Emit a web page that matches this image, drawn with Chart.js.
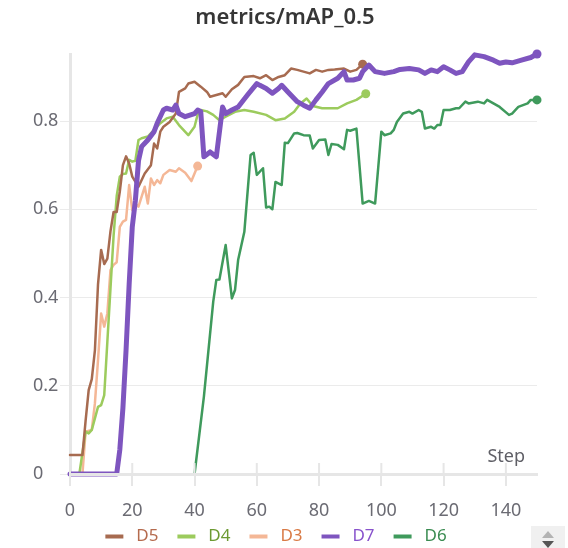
<!DOCTYPE html>
<html>
<head>
<meta charset="utf-8">
<script src="https://cdn.jsdelivr.net/npm/chart.js@4.4.1/dist/chart.umd.min.js"></script>
<style>
  body { margin: 0; background: #fff; }
  #wrap { position: relative; width: 568px; height: 548px; }
  #pager { position: absolute; left: 531px; top: 526px; width: 34px; height: 22px; background: #f0f0f0; }
  .tri { position: absolute; left: 11px; width: 0; height: 0; border-left: 6px solid transparent; border-right: 6px solid transparent; }
  .up { top: 5px; border-bottom: 7px solid #b3b3b3; }
  .down { top: 15px; border-top: 7px solid #555; }
</style>
</head>
<body>
<div id="wrap">
  <canvas id="mapChart"></canvas>
  <div id="pager"><div class="tri up"></div><div class="tri down"></div></div>
</div>
<script>
// --- 1. Data ---
const chartTitle = 'metrics/mAP_0.5';
const seriesNames = ['D5', 'D4', 'D3', 'D7', 'D6'];
const xTicks = [0, 20, 40, 60, 80, 100, 120, 140];
const yTicks = [0, 0.2, 0.4, 0.6, 0.8];
const yTickLabels = ['0', '0.2', '0.4', '0.6', '0.8'];

const d5Steps = [0, 4, 5, 6, 7, 8, 9, 10, 11, 12, 13, 14, 15, 16, 17, 18, 19, 20, 22, 24, 26, 27, 28, 29, 30, 32, 34, 35, 37, 38, 40, 42, 44, 45, 47, 49, 50, 52, 54, 56, 59, 61, 63, 65, 67, 69, 71, 73, 75, 77, 79, 81, 83, 85, 88, 90, 92, 94];
const d5Vals  = [0.043, 0.043, 0.12, 0.19, 0.215, 0.28, 0.43, 0.508, 0.476, 0.488, 0.55, 0.594, 0.594, 0.64, 0.70, 0.72, 0.704, 0.674, 0.651, 0.681, 0.70, 0.749, 0.738, 0.776, 0.787, 0.798, 0.817, 0.866, 0.874, 0.885, 0.889, 0.878, 0.866, 0.855, 0.859, 0.863, 0.855, 0.872, 0.882, 0.900, 0.902, 0.897, 0.904, 0.893, 0.900, 0.904, 0.919, 0.916, 0.912, 0.908, 0.916, 0.912, 0.916, 0.917, 0.919, 0.912, 0.916, 0.929];

const d4Steps = [0, 3, 5, 6, 7, 9, 10, 11, 12, 13, 14, 15, 16, 17, 18, 19, 20, 21, 22, 23, 25, 27, 29, 31, 33, 35, 38, 40, 41, 42, 44, 46, 48, 50, 53, 56, 59, 63, 66, 69, 72, 74, 76, 78, 81, 86, 89, 92, 95];
const d4Vals  = [0, 0, 0.096, 0.092, 0.10, 0.152, 0.156, 0.179, 0.30, 0.42, 0.54, 0.63, 0.674, 0.68, 0.681, 0.712, 0.708, 0.71, 0.757, 0.761, 0.765, 0.78, 0.795, 0.806, 0.81, 0.791, 0.768, 0.787, 0.815, 0.825, 0.822, 0.814, 0.802, 0.81, 0.821, 0.825, 0.821, 0.814, 0.802, 0.806, 0.821, 0.84, 0.851, 0.834, 0.829, 0.829, 0.84, 0.848, 0.862];

const d3Steps = [0, 4, 5, 7, 8, 9, 10, 11, 12, 13, 14, 15, 16, 17, 18, 19, 20, 21, 22, 24, 25, 26, 27, 28, 29, 30, 32, 34, 35, 37, 39, 41];
const d3Vals  = [0, 0, 0.096, 0.10, 0.16, 0.258, 0.364, 0.334, 0.364, 0.462, 0.474, 0.48, 0.56, 0.572, 0.576, 0.655, 0.598, 0.613, 0.606, 0.651, 0.613, 0.67, 0.655, 0.666, 0.659, 0.678, 0.689, 0.685, 0.693, 0.683, 0.664, 0.698];

const d7Steps = [0, 15, 16, 17, 18, 19, 20, 21, 22, 23, 25, 27, 28, 30, 31, 33, 34, 35, 37, 40, 41, 42, 43, 45, 47, 49, 50, 52, 54, 57, 60, 61, 63, 65, 67, 68, 70, 73, 75, 77, 79, 81, 83, 86, 88, 89, 91, 93, 94, 96, 98, 101, 104, 106, 109, 112, 114, 116, 118, 120, 122, 124, 126, 128, 130, 133, 136, 138, 140, 142, 145, 148, 150];
const d7Vals  = [0, 0, 0.055, 0.15, 0.28, 0.43, 0.56, 0.62, 0.71, 0.742, 0.757, 0.776, 0.795, 0.825, 0.829, 0.825, 0.836, 0.817, 0.81, 0.817, 0.825, 0.821, 0.719, 0.730, 0.719, 0.832, 0.817, 0.825, 0.832, 0.859, 0.885, 0.881, 0.874, 0.863, 0.874, 0.881, 0.866, 0.844, 0.836, 0.829, 0.848, 0.866, 0.885, 0.897, 0.912, 0.893, 0.893, 0.897, 0.912, 0.927, 0.912, 0.908, 0.912, 0.917, 0.919, 0.916, 0.908, 0.916, 0.912, 0.923, 0.916, 0.908, 0.912, 0.934, 0.950, 0.946, 0.938, 0.931, 0.934, 0.932, 0.938, 0.944, 0.952];

const d6Steps = [40, 43, 46, 47, 48, 50, 52, 53, 54, 56, 58, 59, 60, 62, 63, 64, 65, 66, 68, 69, 70, 72, 73, 75, 77, 78, 80, 82, 83, 84, 86, 88, 89, 90, 92, 94, 96, 98, 100, 101, 103, 104, 105, 107, 109, 110, 112, 113, 114, 116, 117, 118, 119, 120, 122, 124, 125, 127, 128, 131, 133, 134, 136, 138, 141, 142, 144, 147, 148, 150];
const d6Vals  = [0, 0.175, 0.39, 0.44, 0.441, 0.519, 0.398, 0.417, 0.485, 0.549, 0.723, 0.728, 0.678, 0.693, 0.604, 0.606, 0.600, 0.662, 0.655, 0.751, 0.75, 0.772, 0.773, 0.768, 0.767, 0.738, 0.757, 0.758, 0.723, 0.748, 0.746, 0.736, 0.78, 0.778, 0.783, 0.613, 0.619, 0.613, 0.776, 0.768, 0.772, 0.78, 0.798, 0.817, 0.821, 0.817, 0.825, 0.821, 0.783, 0.787, 0.783, 0.791, 0.791, 0.825, 0.825, 0.829, 0.829, 0.844, 0.84, 0.844, 0.84, 0.848, 0.84, 0.832, 0.814, 0.817, 0.832, 0.84, 0.848, 0.848];

const lineColors = ['#a76b50', '#9ccb5d', '#f4b796', '#7e55bf', '#3f9a5c'];
const textColors = ['#b56b4e', '#6c9a32', '#d97a45', '#8853cc', '#3b8c52'];
const lineWidths = [2.5, 2.5, 2.5, 5, 2.5];
const drawOrder  = [1, 2, 3, 0, 4]; // D7 on top

const stepLists = [d5Steps, d4Steps, d3Steps, d7Steps, d6Steps];
const valLists  = [d5Vals, d4Vals, d3Vals, d7Vals, d6Vals];

// --- 2. Chart.js setup ---
Chart.defaults.font.family = '"Noto Sans", sans-serif';

const datasets = seriesNames.map((name, i) => ({
    label: name,
    data: stepLists[i].map((s, j) => ({ x: s, y: valLists[i][j] })),
    borderColor: lineColors[i],
    backgroundColor: lineColors[i],
    borderWidth: lineWidths[i],
    borderJoinStyle: 'round',
    borderCapStyle: 'round',
    tension: 0,
    order: drawOrder[i],
    clip: 8,
    // only the last point of each run gets a dot
    pointRadius: ctx => ctx.dataIndex === stepLists[i].length - 1 ? 4.5 : 0,
    pointBackgroundColor: lineColors[i],
    pointBorderWidth: 0
}));

// "Step" caption inside the plot, plus the part of each x tick above the axis
const stepLabel = {
    id: 'stepLabel',
    afterDraw(chart) {
        const { ctx, chartArea, scales } = chart;
        ctx.save();
        ctx.strokeStyle = '#e6e6e6';
        ctx.lineWidth = 2;
        xTicks.forEach(v => {
            const px = scales.x.getPixelForValue(v);
            ctx.beginPath();
            ctx.moveTo(px, chartArea.bottom - 11);
            ctx.lineTo(px, chartArea.bottom);
            ctx.stroke();
        });
        ctx.fillStyle = '#5f5f66';
        ctx.font = '18px "Noto Sans"';
        ctx.textAlign = 'right';
        ctx.textBaseline = 'middle';
        ctx.fillText('Step', chartArea.right - 12, chartArea.bottom - 17);
        ctx.restore();
    }
};

// legend sits a little left of centre; its top is pulled up so the
// padded text lands on the bottom row without being clipped
const legendNudge = {
    id: 'legendNudge',
    afterLayout(chart) {
        const l = chart.legend;
        l.left -= 9; l.right -= 9;
        l.top -= 13;
    }
};

const chart = new Chart(document.getElementById('mapChart'), {
    type: 'line',
    data: { datasets },
    options: {
        responsive: true,
        maintainAspectRatio: false,
        animation: false,
        layout: { padding: { left: 33, right: 31, top: 0, bottom: 0 } },
        scales: {
            x: {
                type: 'linear',
                min: 0,
                max: 150,
                afterBuildTicks: s => { s.ticks = xTicks.map(v => ({ value: v })); },
                afterFit: s => { s.height = 48; },
                grid: { drawOnChartArea: false, drawTicks: true, tickLength: 12, color: '#e6e6e6', lineWidth: 2, z: 1 },
                border: { display: true, color: '#e6e6e6', width: 3, z: 1 },
                ticks: { color: '#6b6b73', font: { size: 18 }, padding: 14, maxRotation: 0 }
            },
            y: {
                type: 'linear',
                min: 0,
                max: 0.952,
                afterBuildTicks: s => { s.ticks = yTicks.map(v => ({ value: v })); },
                afterFit: s => { s.width = 37; },
                grid: { color: '#ebebeb', lineWidth: 1, tickLength: 10, drawTicks: true },
                border: { display: true, color: '#e6e6e6', width: 3 },
                ticks: {
                    color: '#6b6b73',
                    font: { size: 18 },
                    crossAlign: 'far',
                    callback: (v, idx) => yTickLabels[idx]
                }
            }
        },
        plugins: {
            title: {
                display: true,
                text: chartTitle,
                color: '#363636',
                font: { size: 22, weight: '600' },
                padding: { top: 5, bottom: 22.6 }
            },
            legend: {
                position: 'bottom',
                maxHeight: 26,
                labels: {
                    font: { size: 17 },
                    boxWidth: 18,
                    boxHeight: 4,
                    padding: 19,
                    useBorderRadius: true,
                    borderRadius: 2,
                    generateLabels: ch => ch.data.datasets.map((ds, i) => ({
                        text: ' ' + ds.label,
                        fillStyle: lineColors[i],
                        strokeStyle: lineColors[i],
                        lineWidth: 0,
                        fontColor: textColors[i],
                        hidden: false,
                        datasetIndex: i
                    }))
                }
            },
            tooltip: { enabled: false }
        }
    },
    plugins: [stepLabel, legendNudge]
});
</script>
</body>
</html>
